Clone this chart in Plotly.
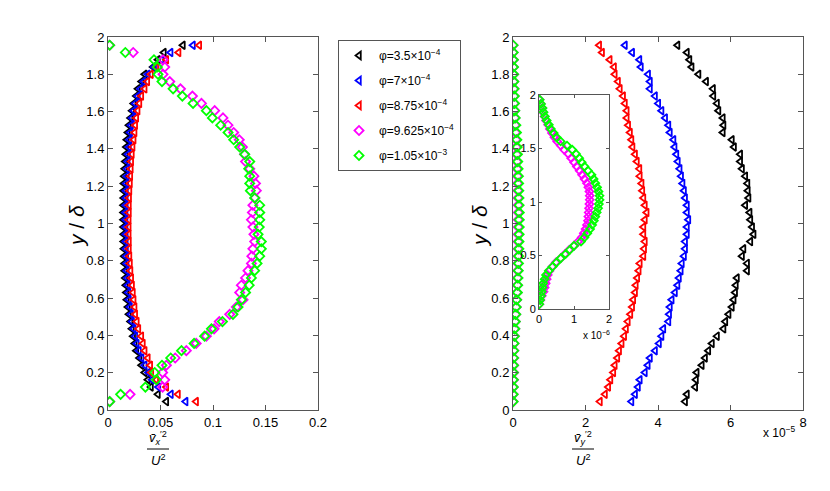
import plotly.graph_objects as go

# wall-normal positions y/delta (same grid for every profile)
y_pos = [0.045, 0.084, 0.123, 0.162, 0.201, 0.240, 0.279, 0.318, 0.357, 0.396,
         0.435, 0.474, 0.513, 0.552, 0.591, 0.630, 0.669, 0.708, 0.747, 0.786,
         0.825, 0.864, 0.903, 0.942, 0.981, 1.020, 1.059, 1.098, 1.137, 1.176,
         1.215, 1.254, 1.293, 1.332, 1.371, 1.410, 1.449, 1.488, 1.527, 1.566,
         1.605, 1.644, 1.683, 1.722, 1.761, 1.800, 1.839, 1.878, 1.917, 1.956]

labels = ["φ=3.5×10<sup>−4</sup>", "φ=7×10<sup>−4</sup>", "φ=8.75×10<sup>−4</sup>",
          "φ=9.625×10<sup>−4</sup>", "φ=1.05×10<sup>−3</sup>"]
colors = ["#000000", "#0000ff", "#ff0000", "#ff00ff", "#00ff00"]
symbols = ["triangle-left-open"] * 3 + ["diamond-open"] * 2

# left panel: vx'^2 / U^2
vx_black = [0.0556, 0.0476, 0.041, 0.038, 0.035, 0.032, 0.030, 0.027, 0.0255, 0.024,
            0.0228, 0.0215, 0.020, 0.019, 0.018, 0.0175, 0.017, 0.0165, 0.016, 0.0158,
            0.0155, 0.0152, 0.015, 0.015, 0.0148, 0.0148, 0.0148, 0.0148, 0.015, 0.015,
            0.0152, 0.0155, 0.016, 0.0165, 0.017, 0.0175, 0.018, 0.019, 0.020, 0.0215,
            0.023, 0.0245, 0.027, 0.0286, 0.032, 0.035, 0.043, 0.0476, 0.0533, 0.0714]
vx_blue = [0.074, 0.060, 0.048, 0.042, 0.0385, 0.035, 0.032, 0.0295, 0.0275, 0.026,
           0.0245, 0.023, 0.022, 0.021, 0.020, 0.0195, 0.019, 0.0185, 0.018, 0.0178,
           0.0175, 0.0172, 0.017, 0.017, 0.0168, 0.0168, 0.0168, 0.017, 0.017, 0.0172,
           0.0175, 0.018, 0.0183, 0.0188, 0.0192, 0.020, 0.0205, 0.0212, 0.022, 0.023,
           0.0245, 0.026, 0.0285, 0.031, 0.034, 0.038, 0.044, 0.051, 0.0597, 0.081]
vx_red = [0.084, 0.0667, 0.0556, 0.046, 0.0413, 0.0403, 0.038, 0.035, 0.0333, 0.0318,
          0.029, 0.0275, 0.026, 0.0254, 0.0245, 0.0238, 0.023, 0.0222, 0.0215, 0.021,
          0.0205, 0.020, 0.020, 0.0198, 0.0198, 0.0198, 0.020, 0.020, 0.0202, 0.0205,
          0.021, 0.0213, 0.0218, 0.0222, 0.0228, 0.0235, 0.0245, 0.0254, 0.026, 0.027,
          0.0283, 0.030, 0.0318, 0.035, 0.0375, 0.041, 0.046, 0.0556, 0.0673, 0.087]
vx_magenta = [0.0016, 0.021, 0.052, 0.054, 0.052, 0.0556, 0.064, 0.0746, 0.084, 0.0937,
              0.101, 0.106, 0.1159, 0.1222, 0.1286, 0.1254, 0.127, 0.131, 0.1333, 0.1366,
              0.137, 0.138, 0.1397, 0.139, 0.138, 0.1366, 0.1375, 0.138, 0.140, 0.1413,
              0.1405, 0.139, 0.135, 0.131, 0.130, 0.128, 0.125, 0.1197, 0.1143, 0.1095,
              0.1016, 0.089, 0.0804, 0.069, 0.0588, 0.0524, 0.054, 0.0524, 0.024, 0.0016]
vx_green = [0.0016, 0.012, 0.0356, 0.046, 0.0445, 0.0514, 0.0597, 0.070, 0.082, 0.092,
            0.0985, 0.109, 0.119, 0.1238, 0.127, 0.131, 0.1345, 0.1366, 0.1397, 0.142,
            0.1445, 0.146, 0.146, 0.1429, 0.144, 0.1445, 0.1445, 0.1445, 0.1397, 0.1356,
            0.135, 0.135, 0.134, 0.135, 0.1302, 0.1254, 0.1197, 0.1143, 0.1073, 0.0994,
            0.0937, 0.081, 0.0708, 0.062, 0.0514, 0.0476, 0.047, 0.0438, 0.0165, 0.0016]

# right panel: vy'^2 / U^2 in units of 1e-5
vy_black = [4.75, 4.8, 5.03, 5.05, 5.07, 5.21, 5.3, 5.39, 5.49, 5.63,
            5.81, 5.86, 5.95, 6.04, 6.09, 6.13, 6.15, 6.18, 6.46, 6.46,
            6.32, 6.36, 6.55, 6.64, 6.6, 6.55, 6.53, 6.41, 6.5, 6.48,
            6.47, 6.41, 6.32, 6.27, 6.27, 6.1, 6.04, 5.79, 5.81, 5.79,
            5.67, 5.63, 5.53, 5.52, 5.33, 5.12, 4.93, 4.87, 4.8, 4.54]
vy_blue = [3.27, 3.37, 3.45, 3.5, 3.64, 3.72, 3.78, 3.92, 4.03, 4.1,
           4.15, 4.29, 4.31, 4.33, 4.38, 4.47, 4.54, 4.58, 4.63, 4.66,
           4.72, 4.75, 4.75, 4.8, 4.8, 4.84, 4.8, 4.8, 4.75, 4.72,
           4.68, 4.64, 4.6, 4.55, 4.51, 4.46, 4.43, 4.33, 4.29, 4.2,
           4.1, 4.01, 3.92, 3.78, 3.78, 3.73, 3.53, 3.49, 3.29, 3.09]
vy_red = [2.4, 2.54, 2.63, 2.69, 2.77, 2.81, 2.88, 2.93, 3.0, 3.07,
          3.12, 3.17, 3.24, 3.29, 3.32, 3.37, 3.39, 3.43, 3.47, 3.5,
          3.6, 3.62, 3.64, 3.6, 3.6, 3.64, 3.69, 3.64, 3.6, 3.57,
          3.55, 3.5, 3.49, 3.42, 3.37, 3.3, 3.27, 3.23, 3.18, 3.14,
          3.14, 3.09, 3.04, 2.95, 2.9, 2.81, 2.79, 2.67, 2.46, 2.38]
# the two highest phi, units of 1e-6 (shown in the inset)
vy_magenta = [0.01, 0.04, 0.08, 0.13, 0.16, 0.19, 0.22, 0.25, 0.3, 0.38,
              0.48, 0.62, 0.74, 0.86, 1.0, 1.12, 1.22, 1.28, 1.33, 1.37,
              1.4, 1.41, 1.42, 1.43, 1.44, 1.45, 1.45, 1.44, 1.41, 1.37,
              1.3, 1.23, 1.16, 1.08, 1.0, 0.92, 0.84, 0.72, 0.62, 0.52,
              0.44, 0.37, 0.31, 0.26, 0.2, 0.16, 0.12, 0.09, 0.05, 0.02]
vy_green = [0.01, 0.03, 0.06, 0.08, 0.10, 0.12, 0.16, 0.2, 0.28, 0.39,
            0.5, 0.62, 0.76, 0.88, 1.0, 1.2, 1.3, 1.38, 1.46, 1.52,
            1.57, 1.61, 1.65, 1.69, 1.71, 1.73, 1.73, 1.7, 1.66, 1.61,
            1.56, 1.5, 1.4, 1.3, 1.22, 1.15, 1.06, 0.95, 0.8, 0.62,
            0.5, 0.42, 0.34, 0.28, 0.22, 0.17, 0.13, 0.1, 0.06, 0.02]

W, H = 830, 491
FONT = "Liberation Sans, Arial, sans-serif"
AX = "#555555"


def px_x(p):
    return p / W


def px_y(p):
    return 1 - p / H


fig = go.Figure()

left = [vx_black, vx_blue, vx_red, vx_magenta, vx_green]
for i, vals in enumerate(left):
    fig.add_trace(go.Scatter(x=vals, y=y_pos, mode="markers", name=labels[i], legendgroup="g%d" % i,
                             marker=dict(symbol=symbols[i], color=colors[i], size=7,
                                         line=dict(width=1.8, color=colors[i])),
                             xaxis="x", yaxis="y"))

# right panel, 1e-6 series converted to 1e-5 units for the main axes
right = [vy_black, vy_blue, vy_red, [v / 10 for v in vy_magenta], [v / 10 for v in vy_green]]
for i, vals in enumerate(right):
    fig.add_trace(go.Scatter(x=vals, y=y_pos, mode="markers", showlegend=False,
                             marker=dict(symbol=symbols[i], color=colors[i], size=7,
                                         line=dict(width=1.8, color=colors[i])),
                             xaxis="x2", yaxis="y2"))

for i, vals in [(3, vy_magenta), (4, vy_green)]:
    fig.add_trace(go.Scatter(x=vals, y=y_pos, mode="markers", showlegend=False,
                             marker=dict(symbol="diamond-open", color=colors[i], size=6,
                                         line=dict(width=1.8, color=colors[i])),
                             xaxis="x3", yaxis="y3"))


def ax_style(**kw):
    d = dict(showline=True, linecolor=AX, linewidth=1, mirror="ticks", ticks="inside",
             ticklen=5, tickcolor=AX, showgrid=False, zeroline=False, automargin=False,
             tickfont=dict(family=FONT, size=13, color="#000000"))
    d.update(kw)
    return d


ytick = [0, 0.2, 0.4, 0.6, 0.8, 1, 1.2, 1.4, 1.6, 1.8, 2]
ytext = ["0", "0.2", "0.4", "0.6", "0.8", "1", "1.2", "1.4", "1.6", "1.8", "2"]

fig.update_layout(
    width=W, height=H, autosize=False,
    margin=dict(l=0, r=0, t=0, b=0),
    paper_bgcolor="white", plot_bgcolor="white",
    font=dict(family=FONT, size=13, color="#000000"),
    xaxis=ax_style(domain=[px_x(108), px_x(318)], range=[0, 0.2], anchor="y",
                   tickvals=[0, 0.05, 0.1, 0.15, 0.2], ticktext=["0", "0.05", "0.1", "0.15", "0.2"]),
    yaxis=ax_style(domain=[px_y(410), px_y(37)], range=[0, 2], anchor="x",
                   tickvals=ytick, ticktext=ytext),
    xaxis2=ax_style(domain=[px_x(513), px_x(803)], range=[0, 8], anchor="y2",
                    tickvals=[0, 2, 4, 6, 8], ticktext=["0", "2", "4", "6", "8"]),
    yaxis2=ax_style(domain=[px_y(410), px_y(37)], range=[0, 2], anchor="x2",
                    tickvals=ytick, ticktext=ytext),
    xaxis3=ax_style(domain=[px_x(539), px_x(609)], range=[0, 2], anchor="y3", ticklen=3,
                    tickvals=[0, 1, 2], ticktext=["0", "1", "2"],
                    tickfont=dict(family=FONT, size=11, color="#000000")),
    yaxis3=ax_style(domain=[px_y(309), px_y(95)], range=[0, 2], anchor="x3", ticklen=3,
                    tickvals=[0, 0.5, 1, 1.5, 2], ticktext=["0", "0.5", "1", "1.5", "2"],
                    tickfont=dict(family=FONT, size=11, color="#000000")),
    legend=dict(x=px_x(338), y=px_y(40), xanchor="left", yanchor="top",
                bgcolor="white", bordercolor=AX, borderwidth=1, tracegroupgap=6, itemwidth=30,
                font=dict(family=FONT, size=12, color="#000000")),
)

# inset gets a white background so it sits cleanly over the main panel
fig.add_shape(type="rect", xref="paper", yref="paper", layer="below",
              x0=px_x(539), x1=px_x(609), y0=px_y(309), y1=px_y(95),
              fillcolor="white", line=dict(width=0))


def note(text, x, y, size, angle=0, xa="center", ya="middle"):
    return dict(text=text, x=px_x(x), y=px_y(y), xref="paper", yref="paper", showarrow=False,
                xanchor=xa, yanchor=ya, textangle=angle, font=dict(family=FONT, size=size))


ann = [note("<i>y</i> / <i>δ</i>", 76, 226, 21, angle=-90),
       note("<i>y</i> / <i>δ</i>", 479, 226, 21, angle=-90)]
for cx, sub in ((158, "x"), (583, "y")):
    ann.append(note("<i>v̄</i><sub><i>%s</i></sub><sup>′2</sup>" % sub, cx, 449, 13, ya="bottom"))
    ann.append(note("<i>U</i><sup>2</sup>", cx, 450, 13, ya="top"))
    fig.add_shape(type="line", xref="paper", yref="paper", x0=px_x(cx - 11), x1=px_x(cx + 11),
                  y0=px_y(449), y1=px_y(449), line=dict(color="black", width=1))
ann.append(note("x 10<sup>−5</sup>", 779, 432, 12))
ann.append(note("x 10<sup>−6</sup>", 596, 335, 10))
fig.update_layout(annotations=ann)

# drop the browser's default body margin so figure pixels line up with the page
fig.write_html("out.html", config={"displayModeBar": False},
               post_script="document.body.style.margin='0px';")
